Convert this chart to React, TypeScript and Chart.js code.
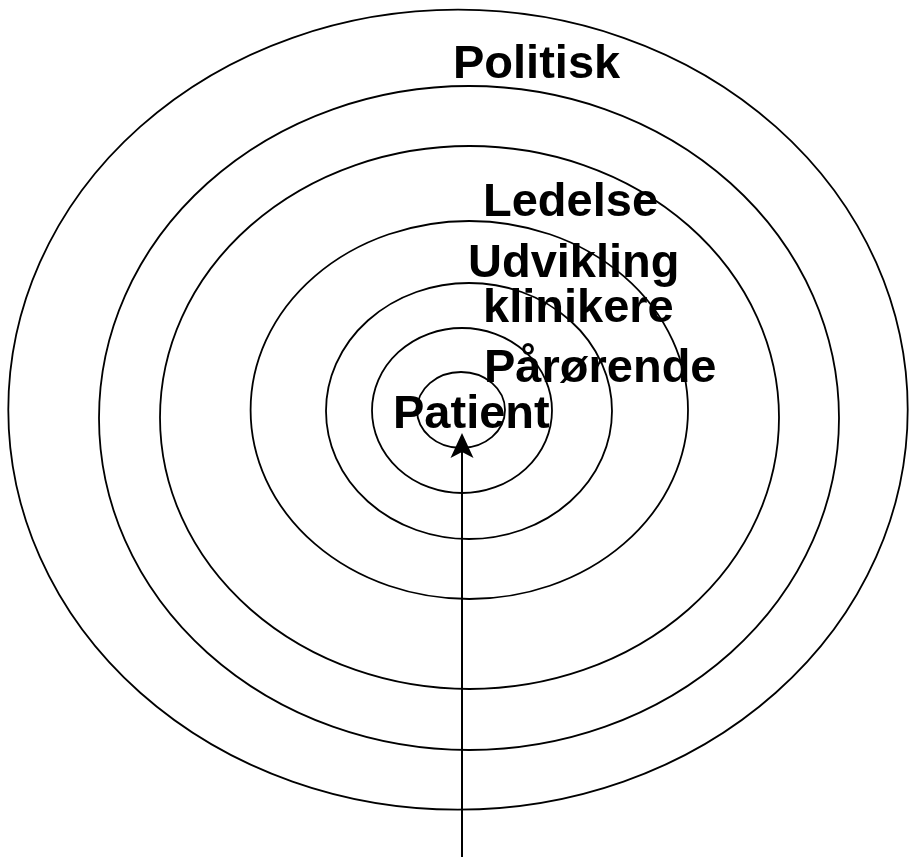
import React, { useEffect, useRef } from "react";
import { Chart, registerables } from "chart.js";

Chart.register(...registerables);

const W = 909;
const H = 859;

// Concentric rings (centre and radii in diagram units)
const ringCenterX = [458, 469, 469.5, 469.3, 469, 462, 461];
const ringCenterY = [409.7, 418, 417.5, 410, 411, 410.5, 410];
const ringRadiusX = [449.7, 370, 309.5, 218.7, 143, 90, 44];
const ringRadiusY = [400, 332, 271.5, 189, 128, 82.5, 38];

// Ring labels
const labelTexts = ["Politisk", "Ledelse", "Udvikling", "klinikere", "Pårørende", "Patient"];
const labelX = [453, 483, 468, 483, 484, 393];
const labelY = [78, 216, 277, 322, 382, 428];

// Arrow: tail -> tip
const arrowX = [462, 462];
const arrowY = [857, 433];

const ringsPlugin = {
  id: "rings",
  afterDatasetsDraw(chart: any) {
    const { ctx, scales } = chart;
    const xs = scales.x;
    const ys = scales.y;
    ctx.save();
    ctx.strokeStyle = "#000";
    ctx.lineWidth = 1.8;
    for (let i = 0; i < ringCenterX.length; i++) {
      const cx = xs.getPixelForValue(ringCenterX[i]);
      const cy = ys.getPixelForValue(ringCenterY[i]);
      const rx = Math.abs(xs.getPixelForValue(ringCenterX[i] + ringRadiusX[i]) - cx);
      const ry = Math.abs(ys.getPixelForValue(ringCenterY[i] + ringRadiusY[i]) - cy);
      ctx.beginPath();
      ctx.ellipse(cx, cy, rx, ry, 0, 0, Math.PI * 2);
      ctx.stroke();
    }
    // arrow head
    const tx = xs.getPixelForValue(arrowX[1]);
    const ty = ys.getPixelForValue(arrowY[1]);
    const headLen = 25;
    const notch = 19;
    const half = 11.5;
    ctx.fillStyle = "#000";
    ctx.beginPath();
    ctx.moveTo(tx, ty);
    ctx.lineTo(tx - half, ty + headLen);
    ctx.lineTo(tx, ty + notch);
    ctx.lineTo(tx + half, ty + headLen);
    ctx.closePath();
    ctx.fill();
    // labels
    ctx.font = 'bold 47px "Liberation Sans", Arial, Helvetica, sans-serif';
    ctx.textAlign = "left";
    ctx.textBaseline = "alphabetic";
    for (let i = 0; i < labelTexts.length; i++) {
      ctx.fillText(labelTexts[i], xs.getPixelForValue(labelX[i]), ys.getPixelForValue(labelY[i]));
    }
    ctx.restore();
  },
};

export default function App() {
  const ref = useRef<HTMLCanvasElement | null>(null);
  useEffect(() => {
    if (!ref.current) return;
    const chart = new Chart(ref.current, {
      type: "scatter",
      data: {
        datasets: [
          {
            label: "arrow",
            data: [
              { x: arrowX[0], y: arrowY[0] },
              { x: arrowX[1], y: arrowY[1] + 19 },
            ],
            showLine: true,
            borderColor: "#000",
            borderWidth: 2,
            pointRadius: 0,
            pointHoverRadius: 0,
          },
        ],
      },
      options: {
        responsive: false,
        animation: false,
        events: [],
        layout: { padding: 0 },
        scales: {
          x: { type: "linear", min: 0, max: W, display: false },
          y: { type: "linear", min: 0, max: H, reverse: true, display: false },
        },
        plugins: {
          legend: { display: false },
          tooltip: { enabled: false },
        },
      },
      plugins: [ringsPlugin],
    });
    return () => chart.destroy();
  }, []);
  return (
    <div style={{ position: "fixed", left: 0, top: 0, width: W, height: H, background: "#fff" }}>
      <canvas ref={ref} width={W} height={H} style={{ display: "block", width: W, height: H }} />
    </div>
  );
}
